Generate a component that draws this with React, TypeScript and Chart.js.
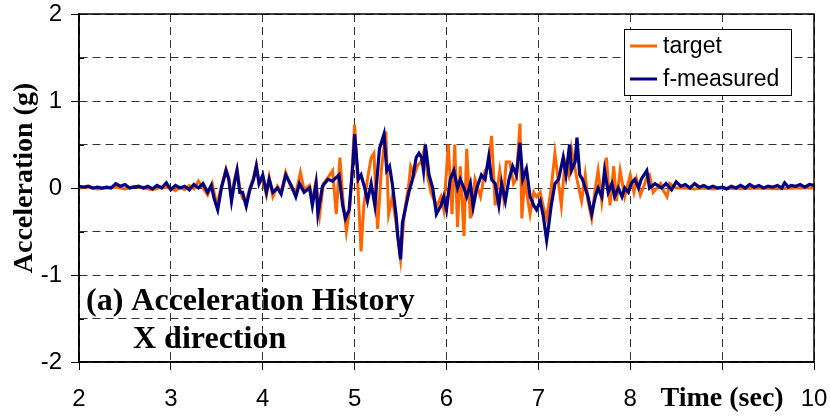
import React, { useEffect, useRef } from "react";
import { Chart, registerables } from "chart.js";

Chart.register(...registerables);

const measuredTime = [
  2.0, 2.05, 2.1, 2.15, 2.2, 2.25, 2.3, 2.35, 2.4, 2.45, 2.5, 2.55, 2.6, 2.65, 2.7, 2.75, 2.8, 2.85, 2.9, 2.95,
  3.0, 3.05, 3.1, 3.15, 3.2, 3.25, 3.3, 3.35, 3.4, 3.44, 3.47, 3.51, 3.55, 3.6, 3.63, 3.66, 3.69, 3.72, 3.75, 3.78,
  3.82, 3.86, 3.9, 3.93, 3.96, 4.0, 4.04, 4.07, 4.11, 4.16, 4.2, 4.25, 4.31, 4.36, 4.4, 4.45, 4.51, 4.54, 4.58, 4.6,
  4.65, 4.71, 4.76, 4.83, 4.87, 4.9, 4.94, 4.98, 5.0, 5.04, 5.07, 5.11, 5.14, 5.18, 5.22, 5.27, 5.32, 5.35, 5.38, 5.41,
  5.45, 5.47, 5.5, 5.52, 5.56, 5.59, 5.63, 5.67, 5.7, 5.73, 5.75, 5.77, 5.81, 5.85, 5.89, 5.94, 5.97, 6.0, 6.04, 6.08,
  6.12, 6.15, 6.19, 6.22, 6.26, 6.29, 6.33, 6.38, 6.42, 6.46, 6.49, 6.53, 6.57, 6.6, 6.64, 6.68, 6.72, 6.76, 6.8, 6.83,
  6.87, 6.91, 6.95, 6.98, 7.02, 7.05, 7.09, 7.11, 7.14, 7.18, 7.22, 7.25, 7.27, 7.3, 7.34, 7.36, 7.4, 7.42, 7.45, 7.48,
  7.51, 7.54, 7.58, 7.62, 7.65, 7.69, 7.72, 7.76, 7.8, 7.83, 7.87, 7.91, 7.94, 7.98, 8.01, 8.05, 8.09, 8.12, 8.18, 8.21,
  8.27, 8.34, 8.39, 8.45, 8.5, 8.55, 8.6, 8.65, 8.7, 8.75, 8.8, 8.85, 8.9, 8.95, 9.0, 9.05, 9.1, 9.15, 9.2, 9.25,
  9.3, 9.35, 9.4, 9.45, 9.5, 9.55, 9.6, 9.65, 9.68, 9.72, 9.75, 9.8, 9.85, 9.9, 9.95, 10.0,
];
const measuredAcc = [
  0.02, 0.01, 0.02, 0.0, 0.01, 0.0, 0.01, 0.0, 0.05, 0.02, 0.04, 0.0, 0.01, 0.02, 0.0, 0.02, -0.01, 0.03, 0.0, 0.06,
  -0.02, 0.03, 0.0, 0.02, -0.02, 0.04, 0.0, 0.05, -0.05, 0.03, -0.12, -0.25, 0.0, 0.2, 0.1, -0.15, 0.05, 0.2, -0.05, -0.05,
  -0.21, -0.02, 0.1, 0.25, 0.05, 0.15, -0.05, 0.1, -0.05, 0.0, -0.07, 0.15, 0.03, -0.1, 0.05, -0.05, 0.0, -0.2, 0.05, -0.3,
  0.02, 0.1, 0.08, 0.15, -0.2, -0.35, -0.25, 0.25, 0.62, 0.1, 0.15, 0.0, -0.15, 0.05, -0.2, 0.45, 0.62, 0.2, 0.25, 0.05,
  -0.3, -0.55, -0.82, -0.4, -0.2, -0.05, 0.1, 0.35, 0.4, 0.35, 0.2, 0.5, 0.15, 0.0, -0.3, -0.2, -0.1, -0.25, 0.1, 0.2,
  0.0, 0.1, 0.0, -0.1, 0.05, -0.22, 0.0, 0.15, 0.1, 0.36, 0.1, 0.05, -0.2, 0.05, -0.15, 0.1, 0.25, 0.15, 0.52, 0.1,
  0.22, -0.1, -0.2, -0.25, -0.15, -0.3, -0.6, -0.45, -0.2, 0.05, 0.1, 0.25, 0.35, 0.15, 0.5, 0.2, 0.3, 0.58, 0.15, 0.1,
  0.0, -0.1, -0.3, -0.1, 0.0, -0.1, 0.2, -0.05, 0.05, -0.1, 0.0, -0.1, 0.0, -0.05, 0.05, 0.1, 0.0, 0.1, 0.2, 0.0,
  0.05, 0.0, 0.05, -0.02, 0.07, 0.02, 0.04, 0.0, 0.05, 0.01, 0.03, 0.0, 0.02, 0.0, 0.01, -0.01, 0.02, 0.0, 0.03, 0.0,
  0.04, 0.01, 0.03, 0.0, 0.02, 0.01, 0.03, 0.0, 0.06, 0.01, 0.03, 0.02, 0.04, 0.01, 0.04, 0.03,
];

const targetTime = [
  2.0, 2.1, 2.2, 2.3, 2.4, 2.5, 2.6, 2.7, 2.8, 2.9, 3.0, 3.05, 3.1, 3.15, 3.2, 3.25, 3.3, 3.35, 3.4, 3.45,
  3.5, 3.55, 3.6, 3.63, 3.66, 3.69, 3.72, 3.75, 3.78, 3.82, 3.86, 3.9, 3.93, 3.96, 4.0, 4.04, 4.07, 4.11, 4.16, 4.2,
  4.25, 4.31, 4.36, 4.41, 4.45, 4.51, 4.54, 4.58, 4.62, 4.66, 4.71, 4.76, 4.8, 4.84, 4.87, 4.91, 4.95, 5.0, 5.03, 5.07,
  5.1, 5.14, 5.18, 5.21, 5.25, 5.29, 5.34, 5.37, 5.41, 5.45, 5.5, 5.54, 5.59, 5.61, 5.65, 5.68, 5.72, 5.76, 5.8, 5.83,
  5.87, 5.9, 5.94, 5.97, 6.02, 6.06, 6.09, 6.12, 6.15, 6.19, 6.22, 6.26, 6.31, 6.37, 6.42, 6.46, 6.49, 6.53, 6.58, 6.62,
  6.65, 6.69, 6.73, 6.76, 6.8, 6.82, 6.85, 6.88, 6.91, 6.95, 6.98, 7.02, 7.05, 7.09, 7.14, 7.18, 7.22, 7.25, 7.29, 7.33,
  7.36, 7.42, 7.47, 7.51, 7.54, 7.58, 7.62, 7.65, 7.69, 7.74, 7.78, 7.82, 7.85, 7.89, 7.94, 8.0, 8.04, 8.07, 8.11, 8.14,
  8.18, 8.21, 8.25, 8.29, 8.33, 8.36, 8.4, 8.43, 8.47, 8.5, 8.6, 8.7, 8.8, 8.9, 9.0, 9.2, 9.4, 9.6, 9.8, 10.0,
];
const targetAcc = [
  0.0, 0.01, -0.01, 0.0, 0.01, -0.01, 0.02, 0.0, -0.02, 0.01, 0.0, -0.03, 0.01, -0.02, 0.03, -0.01, 0.08, 0.0, -0.08, 0.05,
  -0.2, 0.02, 0.22, 0.12, -0.1, 0.08, 0.22, 0.0, -0.12, -0.15, 0.0, 0.12, 0.27, 0.05, 0.1, -0.08, 0.12, -0.1, 0.02, -0.05,
  0.18, 0.0, -0.06, 0.18, -0.02, 0.03, -0.15, 0.08, -0.3, 0.05, 0.12, 0.2, -0.3, 0.35, -0.1, -0.5, -0.2, 0.73, 0.15, -0.73,
  -0.2, 0.1, 0.35, 0.4, -0.47, 0.2, 0.65, -0.3, -0.1, -0.4, -0.82, -0.3, 0.05, 0.25, 0.15, 0.25, 0.3, 0.45, 0.1, -0.05,
  -0.15, -0.2, -0.1, -0.25, 0.5, -0.3, 0.5, -0.45, 0.25, -0.55, 0.45, -0.35, 0.1, -0.1, 0.2, 0.25, 0.6, -0.2, 0.2, -0.1,
  0.3, 0.3, 0.05, 0.1, 0.74, -0.35, 0.1, -0.1, -0.3, -0.05, -0.1, -0.05, -0.2, -0.35, 0.0, 0.4, 0.05, -0.2, 0.3, 0.15,
  0.45, 0.1, -0.15, 0.15, -0.15, -0.35, 0.0, 0.2, -0.15, 0.35, -0.2, 0.25, -0.15, 0.2, -0.1, 0.15, -0.05, 0.1, -0.08, 0.0,
  0.12, 0.15, -0.05, 0.0, 0.05, -0.03, -0.1, 0.05, 0.02, 0.0, 0.0, -0.01, 0.0, -0.01, 0.0, -0.01, 0.0, -0.01, 0.0, 0.0,
];

const xTickLabels: Record<number, string> = {
  2: "2", 3: "3", 4: "4", 5: "5", 6: "6", 7: "7", 8: "8", 9: "Time (sec)", 10: "10",
};
const yTickLabels: Record<string, string> = { "-2": "-2", "-1": "-1", "0": "0", "1": "1", "2": "2" };
const seriesNames = ["target", "f-measured"];
const seriesColors = ["#FF6600", "#000080"];
const yTitle = "Acceleration (g)";
const noteLines = ["(a) Acceleration History", "X direction"];

const SANS = "'Liberation Sans', Arial, sans-serif";
const SERIF = "'Liberation Serif', 'Times New Roman', serif";

const decorPlugin = {
  id: "decor",
  afterDraw(chart: any) {
    const { ctx, chartArea } = chart;
    const { left, top, right, bottom } = chartArea;
    const yScale = chart.scales.y;
    ctx.save();
    ctx.strokeStyle = "#000";
    ctx.lineWidth = 1;
    yScale.ticks.forEach((t: any) => {
      if (Math.abs(t.value - Math.round(t.value)) > 1e-6) {
        const py = Math.round(yScale.getPixelForValue(t.value)) + 0.5;
        ctx.beginPath();
        ctx.moveTo(left, py);
        ctx.lineTo(left + 5, py);
        ctx.stroke();
      }
    });
    ctx.lineWidth = 1.5;
    ctx.strokeStyle = "#000";
    ctx.strokeRect(left, top, right - left, bottom - top);

    ctx.save();
    ctx.translate(32, (top + bottom) / 2 - 10);
    ctx.rotate(-Math.PI / 2);
    ctx.font = `bold 28px ${SERIF}`;
    ctx.fillStyle = "#000";
    ctx.textAlign = "center";
    ctx.textBaseline = "alphabetic";
    ctx.fillText(yTitle, 0, 0);
    ctx.restore();

    ctx.font = `bold 32px ${SERIF}`;
    ctx.fillStyle = "#000";
    ctx.textAlign = "left";
    ctx.textBaseline = "alphabetic";
    ctx.fillText(noteLines[0], left + 7, 310);
    ctx.fillText(noteLines[1], left + 54, 348);

    const lx = 624, ly = 29, lw = 167, lh = 66;
    ctx.fillStyle = "#fff";
    ctx.fillRect(lx, ly, lw, lh);
    ctx.lineWidth = 1;
    ctx.strokeStyle = "#000";
    ctx.strokeRect(lx + 0.5, ly + 0.5, lw, lh);
    ctx.font = `23px ${SANS}`;
    ctx.textBaseline = "middle";
    seriesNames.forEach((name, i) => {
      const yy = ly + 17 + i * 33;
      ctx.strokeStyle = seriesColors[i];
      ctx.lineWidth = 3;
      ctx.beginPath();
      ctx.moveTo(lx + 6, yy);
      ctx.lineTo(lx + 33, yy);
      ctx.stroke();
      ctx.fillStyle = "#000";
      ctx.fillText(name, lx + 39, yy + 1);
    });
    ctx.restore();
  },
};

export default function App() {
  const canvasRef = useRef<HTMLCanvasElement | null>(null);

  useEffect(() => {
    document.body.style.margin = "0";
    const canvas = canvasRef.current;
    if (!canvas) return;
    const chart = new Chart(canvas, {
      type: "line",
      data: {
        datasets: [
          {
            label: seriesNames[0],
            data: targetTime.map((t, i) => ({ x: t, y: targetAcc[i] })),
            borderColor: seriesColors[0],
            borderWidth: 3,
            pointRadius: 0,
            tension: 0,
            fill: false,
            order: 1,
          },
          {
            label: seriesNames[1],
            data: measuredTime.map((t, i) => ({ x: t, y: measuredAcc[i] })),
            borderColor: seriesColors[1],
            borderWidth: 3.2,
            pointRadius: 0,
            tension: 0,
            fill: false,
            order: 0,
          },
        ],
      },
      options: {
        animation: false,
        responsive: false,
        maintainAspectRatio: false,
        layout: { padding: { top: 14, right: 16, left: 0, bottom: 0 } },
        plugins: { legend: { display: false }, tooltip: { enabled: false } },
        scales: {
          x: {
            type: "linear",
            min: 2,
            max: 10,
            afterFit: (s: any) => {
              s.height = 54;
              s.paddingLeft = 0;
              s.paddingRight = 0;
              s.paddingTop = 0;
              s.paddingBottom = 0;
            },
            ticks: {
              stepSize: 1,
              autoSkip: false,
              maxRotation: 0,
              padding: 15,
              color: "#000",
              callback: (v: any) => xTickLabels[Math.round(Number(v))] ?? "",
              font: (c: any) =>
                c.tick && Math.round(c.tick.value) === 9
                  ? { family: SERIF, size: 28, weight: "bold", lineHeight: 0.98 }
                  : { family: SANS, size: 24 },
            },
            grid: { color: "#333", lineWidth: 1, tickLength: 8, tickColor: "#000" },
            border: { display: true, color: "#000", width: 1.5, dash: [8, 5] },
          },
          y: {
            type: "linear",
            min: -2,
            max: 2,
            afterFit: (s: any) => {
              s.width = 79;
              s.paddingLeft = 0;
              s.paddingRight = 0;
              s.paddingTop = 0;
              s.paddingBottom = 0;
            },
            ticks: {
              stepSize: 0.5,
              autoSkip: false,
              padding: 9,
              color: "#000",
              font: { family: SANS, size: 24 },
              callback: (v: any) => {
                const n = Number(v);
                return Math.abs(n - Math.round(n)) < 1e-6 ? yTickLabels[String(Math.round(n))] : "";
              },
            },
            grid: {
              color: "#333",
              lineWidth: 1,
              tickLength: 8,
              tickColor: (c: any) =>
                c.tick && Math.abs(c.tick.value - Math.round(c.tick.value)) < 1e-6 ? "#000" : "rgba(0,0,0,0)",
            },
            border: { display: true, color: "#000", width: 1.5, dash: [8, 5] },
          },
        },
      },
      plugins: [decorPlugin],
    });
    return () => chart.destroy();
  }, []);

  return (
    <div style={{ width: 830, height: 416, background: "#fff" }}>
      <canvas ref={canvasRef} width={830} height={416} style={{ display: "block" }} />
    </div>
  );
}
